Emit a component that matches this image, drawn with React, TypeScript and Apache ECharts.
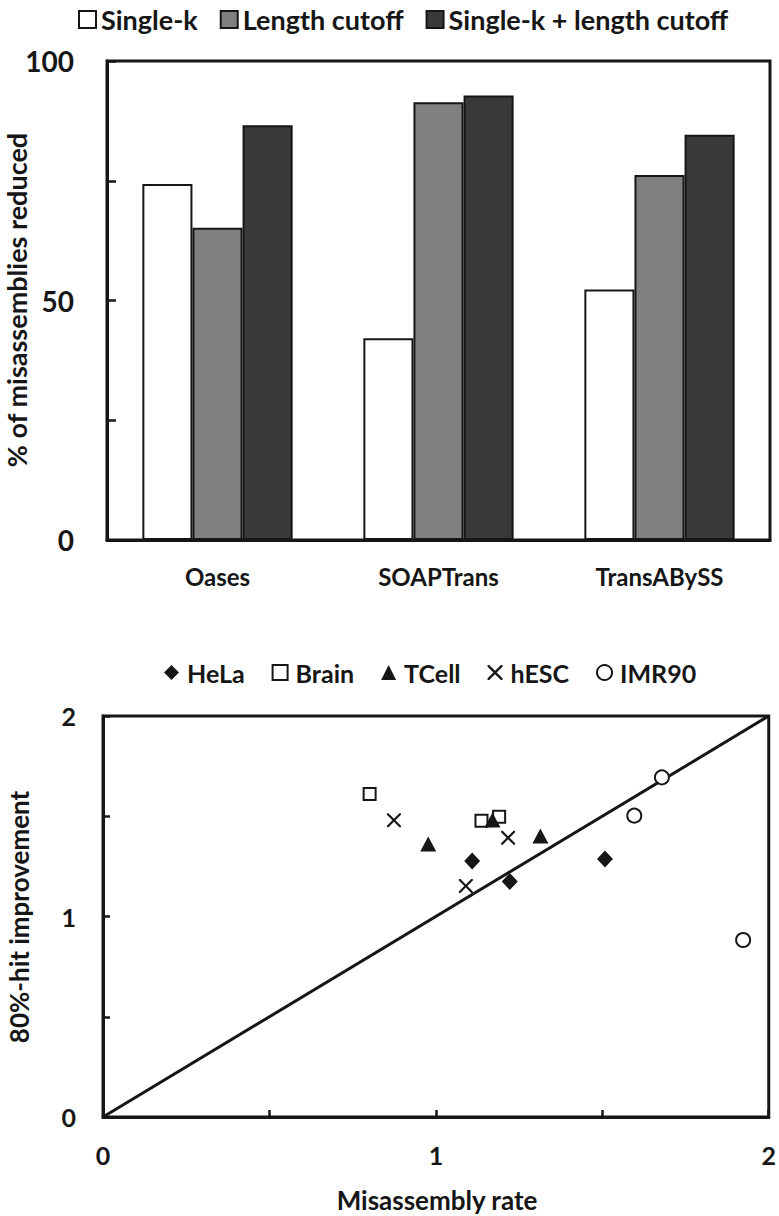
import React, { useEffect, useRef } from "react";
import * as echarts from "echarts";

// ---- Top chart data ----
const categories = ["Oases", "SOAPTrans", "TransABySS"];
const singleK = [74.3, 42.1, 52.3];
const lengthCutoff = [65.2, 91.4, 76.2];
const singleKLength = [86.6, 92.8, 84.6];
const barSeriesNames = ["Single-k", "Length cutoff", "Single-k + length cutoff"];

// ---- Bottom chart data: [misassembly rate, 80%-hit improvement] ----
const hela = [[1.109, 1.277], [1.222, 1.174], [1.508, 1.287]];
const brain = [[0.801, 1.611], [1.137, 1.478], [1.19, 1.498]];
const tcell = [[0.977, 1.362], [1.17, 1.481], [1.314, 1.401]];
const hesc = [[0.874, 1.48], [1.217, 1.393], [1.09, 1.152]];
const imr90 = [[1.679, 1.694], [1.596, 1.503], [1.923, 0.883]];
const diagonal = [[0, 0], [2, 2]];
const scatterNames = ["HeLa", "Brain", "TCell", "hESC", "IMR90"];

const FONT = "Lato";
const INK = "#161616";
const CROSS =
  "path://M0,0 L2.2,0 L10,7.8 L17.8,0 L20,0 L20,2.2 L12.2,10 L20,17.8 L20,20 L17.8,20 L10,12.2 L2.2,20 L0,20 L0,17.8 L7.8,10 L0,2.2 Z";

export default function App() {
  const ref = useRef<HTMLDivElement>(null);

  useEffect(() => {
    if (!ref.current) return;
    const chart = echarts.init(ref.current, undefined, { renderer: "svg" });

    const barBorder = { borderColor: INK, borderWidth: 2, opacity: 1 };

    const option: any = {
      animation: false,
      backgroundColor: "#ffffff",
      textStyle: { fontFamily: FONT, fontWeight: "bold", color: INK },
      legend: [
        {
          left: 73,
          top: 1,
          itemWidth: 17,
          itemHeight: 17,
          itemGap: 22,
          icon: "rect",
          data: barSeriesNames,
          textStyle: { fontFamily: FONT, fontWeight: "bold", fontSize: 27, color: INK },
        },
        {
          left: 159,
          top: 655,
          itemWidth: 15,
          itemHeight: 15,
          itemGap: 27,
          data: scatterNames,
          textStyle: {
            fontFamily: FONT,
            fontWeight: "bold",
            fontSize: 25,
            color: INK,
            padding: [0, 0, 0, 3],
          },
        },
      ],
      grid: [
        {
          left: 107,
          top: 61,
          width: 663,
          height: 479,
          show: true,
          borderColor: INK,
          borderWidth: 3,
          containLabel: false,
        },
        {
          left: 103,
          top: 716,
          width: 669,
          height: 401,
          show: true,
          borderColor: INK,
          borderWidth: 3,
          containLabel: false,
        },
      ],
      xAxis: [
        {
          type: "category",
          gridIndex: 0,
          data: categories,
          axisLine: { lineStyle: { color: INK, width: 3 } },
          axisTick: { inside: true, length: 6, alignWithLabel: true, lineStyle: { color: INK, width: 2.5 } },
          axisLabel: { margin: 24, fontFamily: FONT, fontWeight: "bold", fontSize: 24, color: INK },
          splitLine: { show: false },
        },
        {
          type: "value",
          gridIndex: 1,
          min: 0,
          max: 2,
          interval: 0.5,
          axisLine: { lineStyle: { color: INK, width: 3 } },
          axisTick: { inside: true, length: 7, lineStyle: { color: INK, width: 2.5 } },
          axisLabel: {
            margin: 25,
            fontFamily: FONT,
            fontWeight: "bold",
            fontSize: 25,
            color: INK,
            formatter: (v: number) => (Number.isInteger(v) ? String(v) : ""),
          },
          splitLine: { show: false },
        },
      ],
      yAxis: [
        {
          type: "value",
          gridIndex: 0,
          min: 0,
          max: 100,
          interval: 25,
          axisLine: { show: true, lineStyle: { color: INK, width: 3 } },
          axisTick: { show: true, inside: true, length: 9, lineStyle: { color: INK, width: 2.5 } },
          axisLabel: {
            margin: 33,
            fontFamily: FONT,
            fontWeight: "bold",
            fontSize: 28,
            color: INK,
            formatter: (v: number) => (v % 50 === 0 ? String(v) : ""),
          },
          splitLine: { show: false },
        },
        {
          type: "value",
          gridIndex: 1,
          min: 0,
          max: 2,
          interval: 0.5,
          axisLine: { show: true, lineStyle: { color: INK, width: 3 } },
          axisTick: { show: true, inside: true, length: 7, lineStyle: { color: INK, width: 2.5 } },
          axisLabel: {
            margin: 27,
            fontFamily: FONT,
            fontWeight: "bold",
            fontSize: 25,
            color: INK,
            formatter: (v: number) => (Number.isInteger(v) ? String(v) : ""),
          },
          splitLine: { show: false },
        },
      ],
      series: [
        {
          name: barSeriesNames[0],
          type: "bar",
          xAxisIndex: 0,
          yAxisIndex: 0,
          data: singleK,
          barGap: "0%",
          barCategoryGap: "32%",
          itemStyle: { color: "#ffffff", ...barBorder },
        },
        {
          name: barSeriesNames[1],
          type: "bar",
          xAxisIndex: 0,
          yAxisIndex: 0,
          data: lengthCutoff,
          barGap: "0%",
          barCategoryGap: "32%",
          itemStyle: { color: "#808080", ...barBorder },
        },
        {
          name: barSeriesNames[2],
          type: "bar",
          xAxisIndex: 0,
          yAxisIndex: 0,
          data: singleKLength,
          barGap: "0%",
          barCategoryGap: "32%",
          itemStyle: { color: "#393939", ...barBorder },
        },
        {
          name: "diagonal",
          type: "line",
          xAxisIndex: 1,
          yAxisIndex: 1,
          data: diagonal,
          symbol: "none",
          silent: true,
          lineStyle: { color: INK, width: 3 },
          z: 1,
        },
        {
          name: "HeLa",
          type: "scatter",
          xAxisIndex: 1,
          yAxisIndex: 1,
          data: hela,
          symbol: "diamond",
          symbolSize: [16, 17],
          itemStyle: { color: INK, opacity: 1 },
          z: 3,
        },
        {
          name: "Brain",
          type: "scatter",
          xAxisIndex: 1,
          yAxisIndex: 1,
          data: brain,
          symbol: "rect",
          symbolSize: 12,
          itemStyle: { color: "#ffffff", borderColor: INK, borderWidth: 2, opacity: 1 },
          z: 3,
        },
        {
          name: "TCell",
          type: "scatter",
          xAxisIndex: 1,
          yAxisIndex: 1,
          data: tcell,
          symbol: "triangle",
          symbolSize: [16, 15],
          itemStyle: { color: INK, opacity: 1 },
          z: 3,
        },
        {
          name: "hESC",
          type: "scatter",
          xAxisIndex: 1,
          yAxisIndex: 1,
          data: hesc,
          symbol: CROSS,
          symbolSize: 14,
          itemStyle: { color: INK, opacity: 1 },
          z: 3,
        },
        {
          name: "IMR90",
          type: "scatter",
          xAxisIndex: 1,
          yAxisIndex: 1,
          data: imr90,
          symbol: "circle",
          symbolSize: 14,
          itemStyle: { color: "#ffffff", borderColor: INK, borderWidth: 2, opacity: 1 },
          z: 3,
        },
      ],
      graphic: [
        {
          type: "text",
          x: 16,
          y: 300,
          rotation: Math.PI / 2,
          style: {
            text: "% of misassemblies reduced",
            font: `bold 27px ${FONT}`,
            fill: INK,
            align: "center",
            verticalAlign: "middle",
          },
        },
        {
          type: "text",
          x: 19,
          y: 917,
          rotation: Math.PI / 2,
          style: {
            text: "80%-hit improvement",
            font: `bold 26px ${FONT}`,
            fill: INK,
            align: "center",
            verticalAlign: "middle",
          },
        },
        {
          type: "text",
          x: 437,
          y: 1200,
          style: {
            text: "Misassembly rate",
            font: `bold 26px ${FONT}`,
            fill: INK,
            align: "center",
            verticalAlign: "middle",
          },
        },
      ],
    };

    chart.setOption(option);
    return () => chart.dispose();
  }, []);

  return (
    <div
      ref={ref}
      style={{ position: "absolute", left: 0, top: 0, width: 779, height: 1216 }}
    />
  );
}
